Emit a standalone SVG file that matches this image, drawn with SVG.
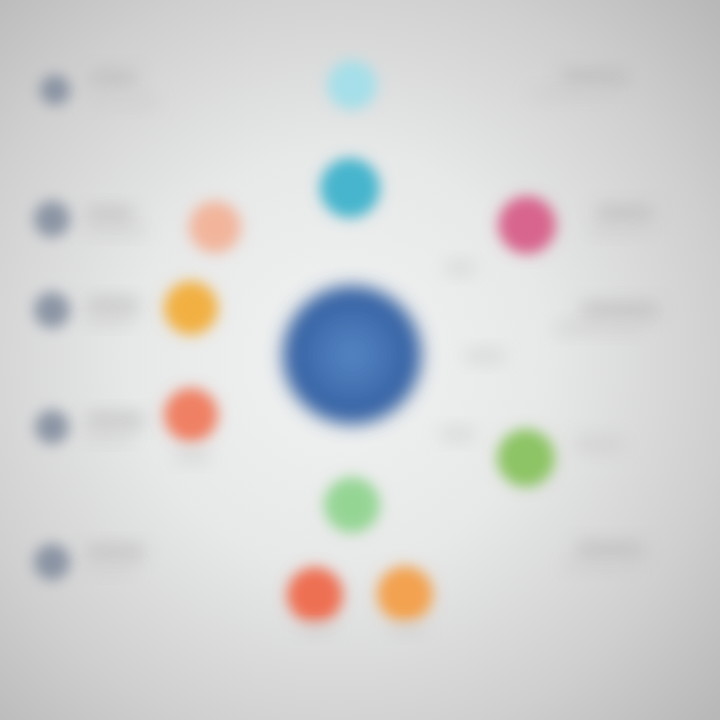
<svg xmlns="http://www.w3.org/2000/svg" width="720" height="720" viewBox="0 0 720 720">
<defs>
  <radialGradient id="bg" cx="0.47" cy="0.5" r="0.72">
    <stop offset="0" stop-color="#f1f2f2"/>
    <stop offset="0.4" stop-color="#e7e8e8"/>
    <stop offset="0.75" stop-color="#cfcfcf"/>
    <stop offset="1" stop-color="#b8b8b8"/>
  </radialGradient>
  <radialGradient id="hub" cx="0.5" cy="0.5" r="0.5">
    <stop offset="0" stop-color="#5686c4"/>
    <stop offset="0.7" stop-color="#3d6aab"/>
    <stop offset="1" stop-color="#2f5d9e"/>
  </radialGradient>
  <filter id="b1" x="-60%" y="-60%" width="220%" height="220%"><feGaussianBlur stdDeviation="7"/></filter>
  <filter id="b2" x="-50%" y="-50%" width="200%" height="200%"><feGaussianBlur stdDeviation="9"/></filter>
  <filter id="b3" x="-50%" y="-100%" width="200%" height="300%"><feGaussianBlur stdDeviation="9"/></filter>
</defs>
<style>
  .dot{filter:url(#b1)}
  .bar{fill:#bdbdbd;filter:url(#b3);opacity:0.8}
  .faint{fill:#cdcdcd;filter:url(#b3);opacity:0.7}
  .gdot{fill:#7e899b;filter:url(#b1);opacity:0.85}
</style>
<rect width="720" height="720" fill="url(#bg)"/>
<g id="connectors"></g>
<g id="hub-node"><circle cx="352" cy="355" r="69" fill="url(#hub)" filter="url(#b2)"/></g>
<g id="node-top-light"><circle class="dot" cx="352" cy="85" r="25" fill="#a6dfe9"/></g>
<g id="node-cyan"><circle class="dot" cx="350" cy="188" r="30" fill="#47b5cd"/></g>
<g id="node-pink"><circle class="dot" cx="527" cy="225" r="29" fill="#d8658d"/></g>
<g id="node-peach"><circle class="dot" cx="215" cy="227" r="26" fill="#f2b59c"/></g>
<g id="node-yellow"><circle class="dot" cx="191" cy="308" r="27" fill="#f2b042"/></g>
<g id="node-coral"><circle class="dot" cx="191" cy="415" r="27" fill="#ef8064"/></g>
<g id="node-green"><circle class="dot" cx="526" cy="458" r="29" fill="#8dc465"/></g>
<g id="node-green-light"><circle class="dot" cx="352" cy="505" r="28" fill="#95d594"/></g>
<g id="node-red"><circle class="dot" cx="315" cy="595" r="28" fill="#ee7052"/></g>
<g id="node-orange"><circle class="dot" cx="405" cy="594" r="28" fill="#f3a250"/></g>
<g id="legend-1"><circle class="gdot" cx="55" cy="90" r="15" opacity="0.5"/><rect class="bar" x="88" y="70" width="50" height="16" rx="8"/><rect class="faint" x="88" y="96" width="70" height="12" rx="6"/></g>
<g id="legend-2"><circle class="gdot" cx="52" cy="219" r="18"/><rect class="bar" x="85" y="207" width="50" height="14" rx="7"/><rect class="faint" x="85" y="226" width="60" height="10" rx="5"/></g>
<g id="legend-3"><circle class="gdot" cx="52" cy="310" r="18"/><rect class="bar" x="85" y="298" width="55" height="14" rx="7"/><rect class="faint" x="85" y="316" width="50" height="10" rx="5"/></g>
<g id="legend-4"><circle class="gdot" cx="52" cy="427" r="17"/><rect class="bar" x="85" y="413" width="60" height="14" rx="7"/><rect class="faint" x="85" y="432" width="50" height="10" rx="5"/></g>
<g id="legend-5"><circle class="gdot" cx="52" cy="562" r="18"/><rect class="bar" x="85" y="545" width="60" height="14" rx="7"/><rect class="faint" x="85" y="565" width="50" height="10" rx="5"/></g>
<g id="label-top-right"><rect class="bar" x="560" y="68" width="70" height="18" rx="9"/><rect class="faint" x="530" y="88" width="80" height="12" rx="6"/></g>
<g id="label-pink"><rect class="bar" x="595" y="205" width="60" height="16" rx="8"/><rect class="faint" x="590" y="226" width="60" height="10" rx="5"/></g>
<g id="label-mid-right"><rect class="bar" x="580" y="302" width="80" height="16" rx="8"/><rect class="faint" x="555" y="322" width="90" height="12" rx="6"/></g>
<g id="label-green"><rect class="faint" x="575" y="436" width="50" height="16" rx="8"/></g>
<g id="label-low-right"><rect class="bar" x="575" y="542" width="70" height="16" rx="8"/><rect class="faint" x="565" y="562" width="70" height="10" rx="5"/></g>
<g id="label-inner"><rect class="faint" x="445" y="262" width="30" height="12" rx="6"/><rect class="faint" x="465" y="350" width="40" height="12" rx="6"/><rect class="faint" x="440" y="428" width="35" height="12" rx="6"/><rect class="faint" x="175" y="450" width="35" height="12" rx="6"/><rect class="faint" x="300" y="625" width="35" height="10" rx="5"/><rect class="faint" x="390" y="625" width="35" height="10" rx="5"/></g>
</svg>
